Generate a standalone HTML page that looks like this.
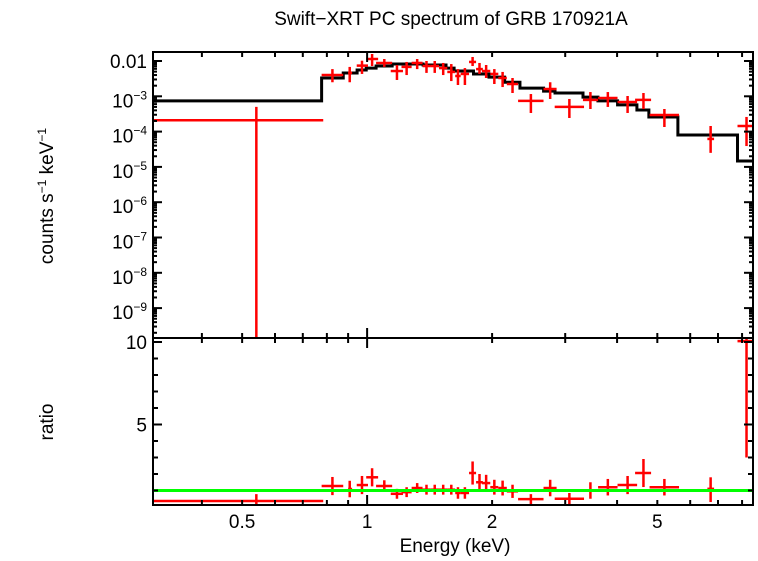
<!DOCTYPE html>
<html><head><meta charset="utf-8"><style>
html,body{margin:0;padding:0;background:#fff;}
svg text{font-family:"Liberation Sans",sans-serif;fill:#000;}
</style></head><body>
<svg id="chart" width="758" height="556" viewBox="0 0 758 556" xmlns="http://www.w3.org/2000/svg">
<text x="451" y="25" font-size="19" text-anchor="middle">Swift−XRT PC spectrum of GRB 170921A</text>
<text transform="translate(53,196) rotate(-90)" font-size="19" text-anchor="middle">counts s<tspan font-size="12" dy="-7">−1</tspan><tspan dy="7"> keV</tspan><tspan font-size="12" dy="-7">−1</tspan></text>
<text transform="translate(53,422) rotate(-90)" font-size="19" text-anchor="middle">ratio</text>
<text x="455" y="552" font-size="19" text-anchor="middle">Energy (keV)</text>
<g id="topPanel"></g>
<g id="botPanel"></g>
</svg>
<script>
// ---- data ----
const binLo = [0.305,0.777,0.90,0.944,0.995,1.051,1.14,1.21,1.28,1.36,1.42,1.49,1.56,1.63,1.68,1.76,1.83,1.89,1.98,2.07,2.17,2.31,2.66,2.83,3.31,3.60,4.01,4.42,4.79,6.6,7.8];
const binHi = [0.784,0.876,0.92,1.005,1.063,1.149,1.22,1.28,1.36,1.42,1.49,1.56,1.63,1.68,1.76,1.83,1.90,1.98,2.07,2.17,2.31,2.66,2.86,3.33,3.60,4.01,4.47,4.83,5.64,6.85,8.8];
const binMid = [0.541,0.825,0.908,0.972,1.028,1.10,1.18,1.245,1.32,1.39,1.455,1.525,1.595,1.655,1.72,1.795,1.865,1.935,2.025,2.12,2.24,2.48,2.76,3.07,3.45,3.80,4.24,4.63,5.2,6.72,8.2];
const rate = [2.1e-4,4.0e-3,4.6e-3,7.4e-3,1.14e-2,8.8e-3,5.2e-3,6.8e-3,8.8e-3,7.2e-3,7.2e-3,6.3e-3,4.9e-3,3.76e-3,4.3e-3,9.4e-3,5.9e-3,5.2e-3,4.3e-3,3.3e-3,2.23e-3,7.4e-4,1.61e-3,5.0e-4,7.9e-4,8.95e-4,6.9e-4,7.9e-4,2.95e-4,6.2e-5,1.44e-4];
const rateHi = [5.0e-4,5.9e-3,6.8e-3,1.02e-2,1.58e-2,1.14e-2,7.7e-3,9.4e-3,1.14e-2,1.0e-2,1.0e-2,8.8e-3,8.2e-3,5.9e-3,6.3e-3,1.3e-2,8.8e-3,7.7e-3,5.9e-3,4.9e-3,3.3e-3,1.16e-3,2.5e-3,8.4e-4,1.32e-3,1.32e-3,1.02e-3,1.24e-3,4.37e-4,1.44e-4,2.6e-4];
const rateLo = [1e-12,2.5e-3,2.5e-3,4.3e-3,7.2e-3,6.8e-3,2.9e-3,4.0e-3,5.9e-3,4.6e-3,4.6e-3,4.0e-3,2.7e-3,2.09e-3,2.09e-3,7.2e-3,4.3e-3,3.3e-3,2.23e-3,1.83e-3,1.24e-3,3.37e-4,8.4e-4,2.43e-4,4.37e-4,5.0e-4,3.37e-4,4.37e-4,1.35e-4,2.5e-5,3.9e-5];
const ratio = [0.36,1.27,1.09,1.33,1.8,1.27,0.8,0.9,1.15,1.05,1.05,1.05,1.05,0.85,0.85,2.06,1.5,1.45,1.2,1.15,0.95,0.48,1.15,0.5,1.0,1.2,1.33,2.06,1.2,1.1,10.05];
const ratioErrLo = [0.42,0.55,0.5,0.55,0.55,0.35,0.3,0.3,0.3,0.3,0.3,0.3,0.3,0.35,0.35,0.7,0.5,0.5,0.45,0.45,0.4,0.3,0.5,0.35,0.5,0.5,0.55,0.85,0.5,0.8,7.05];
const ratioErrHi = [0.42,0.55,0.5,0.55,0.55,0.35,0.3,0.3,0.3,0.3,0.3,0.3,0.3,0.35,0.35,0.7,0.5,0.5,0.45,0.45,0.4,0.3,0.5,0.35,0.5,0.5,0.55,0.85,0.5,0.7,2];
const modelEdges = [0.305,0.777,0.876,0.946,0.995,1.051,1.149,1.364,1.549,1.620,1.804,1.966,2.144,2.334,2.661,2.835,3.311,3.597,4.011,4.465,4.771,5.604,7.80,8.8];
const modelVals = [7.4e-4,3.3e-3,4.57e-3,5.56e-3,6.3e-3,7.2e-3,8.2e-3,7.7e-3,6.3e-3,5.2e-3,4.3e-3,3.5e-3,2.5e-3,1.7e-3,1.4e-3,1.24e-3,9.5e-4,7.4e-4,5.7e-4,4.1e-4,2.6e-4,8.0e-5,1.47e-5];
const xTicksMajor = [1];
const xTicksMinor = [0.4,0.5,0.6,0.7,0.8,0.9,2,3,4,5,6,7,8];
const xTickLabels = [0.5,1,2,5];
const yExpTicks = [-2,-3,-4,-5,-6,-7,-8,-9];
const ratioTicks = [1,2,3,4,5,6,7,8,9,10];
const ratioLabels = [5,10];

// ---- axes ----
const L=153,R=753,T=52,M=338,B=505;
const xmin=0.305, xmax=8.5;
function X(e){return L+(Math.log10(e)-Math.log10(xmin))/(Math.log10(xmax)-Math.log10(xmin))*(R-L);}
function YT(v){return 61+(-2-Math.log10(v))*35.3;}
function YB(r){return 342+(10-r)*16.5;}
const NS="http://www.w3.org/2000/svg";
function el(tag,attrs,parent){const e=document.createElementNS(NS,tag);for(const k in attrs)e.setAttribute(k,attrs[k]);parent.appendChild(e);return e;}
const topP=document.getElementById('topPanel'), botP=document.getElementById('botPanel'), svg=document.getElementById('chart');

const defs=el('defs',{},svg);
const c1=el('clipPath',{id:'ct'},defs); el('rect',{x:L,y:T,width:R-L,height:M-T},c1);
const c2=el('clipPath',{id:'cb'},defs); el('rect',{x:L,y:M,width:R-L,height:B-M},c2);
const gT=el('g',{'clip-path':'url(#ct)'},topP);
const gB=el('g',{'clip-path':'url(#cb)'},botP);

let d='';
for(let i=0;i<modelVals.length;i++){
  const x0=X(modelEdges[i]),x1=X(modelEdges[i+1]),y=YT(modelVals[i]);
  d+=(i===0?'M':'L')+x0+','+y+'L'+x1+','+y;
}
const mp=el('path',{d:d,fill:'none',stroke:'#000','stroke-width':3},gT);



for(let i=0;i<rate.length;i++){
  const xm=X(binMid[i]),x0=X(binLo[i]),x1=X(binHi[i]);
  const g=el('g',{stroke:'#f00','stroke-width':2.5},gT);
  
  
  el('line',{x1:x0,x2:x1,y1:YT(rate[i]),y2:YT(rate[i])},g);
  el('line',{x1:xm,x2:xm,y1:YT(rateHi[i]),y2:Math.min(YT(rateLo[i]),M+5)},g);
  const gb=el('g',{stroke:'#f00','stroke-width':2.5},gB);
  
  
  el('line',{x1:x0,x2:x1,y1:YB(ratio[i]),y2:YB(ratio[i])},gb);
  el('line',{x1:xm,x2:xm,y1:YB(ratio[i]+ratioErrHi[i]),y2:YB(ratio[i]-ratioErrLo[i])},gb);
}
const ul=el('line',{x1:L,x2:R,y1:YB(1),y2:YB(1),stroke:'#0f0','stroke-width':3},gB);



const f1=el('rect',{x:L,y:T,width:R-L,height:M-T,fill:'none',stroke:'#000','stroke-width':2},topP);


const f2=el('rect',{x:L,y:M,width:R-L,height:B-M,fill:'none',stroke:'#000','stroke-width':2},botP);



function xt(e,len){
  const x=X(e);
  [[T,1],[M,-1],[M,1],[B,-1]].forEach(([y,s])=>{el('line',{x1:x,x2:x,y1:y,y2:y+s*len,stroke:'#000','stroke-width':2},svg);});
}
xTicksMinor.forEach(e=>xt(e,5));
xTicksMajor.forEach(e=>xt(e,10));
xTickLabels.forEach(e=>{
  const t=el('text',{x:X(e),y:528,'font-size':19,'text-anchor':'middle'},svg);
  t.textContent=String(e);
  
  
});
yExpTicks.forEach(p=>{
  const y=YT(Math.pow(10,p));
  el('line',{x1:L,x2:L+9,y1:y,y2:y,stroke:'#000','stroke-width':2},svg);
  el('line',{x1:R,x2:R-9,y1:y,y2:y,stroke:'#000','stroke-width':2},svg);
  for(let k=2;k<10;k++){
    const ym=YT(k*Math.pow(10,p-1));
    if(ym<M&&ym>T){
      el('line',{x1:L,x2:L+4,y1:ym,y2:ym,stroke:'#000','stroke-width':2},svg);
      el('line',{x1:R,x2:R-4,y1:ym,y2:ym,stroke:'#000','stroke-width':2},svg);
    }
  }
  const t=el('text',{x:147,y:y+(p===-2?7:11),'font-size':19,'text-anchor':'end'},svg);
  
  
  if(p===-2){t.textContent='0.01';}
  else{
    const a=el('tspan',{},t);a.textContent='10';
    const b=el('tspan',{'font-size':12,dy:-8},t);b.textContent='−'+(-p);
  }
});
ratioTicks.forEach(r=>{
  const y=YB(r),len=(r%5===0)?9:5;
  el('line',{x1:L,x2:L+len,y1:y,y2:y,stroke:'#000','stroke-width':2},svg);
  el('line',{x1:R,x2:R-len,y1:y,y2:y,stroke:'#000','stroke-width':2},svg);
});
ratioLabels.forEach(r=>{
  const t=el('text',{x:147,y:YB(r)+7,'font-size':19,'text-anchor':'end'},svg);
  t.textContent=String(r);
  
  
});
</script>
</body></html>
